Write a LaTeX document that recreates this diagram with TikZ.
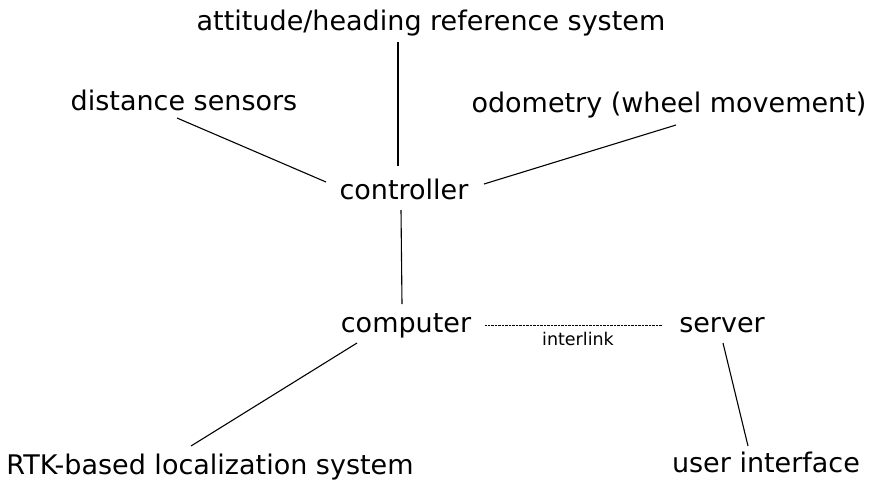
\documentclass[tikz,border=0pt]{standalone}
\usepackage{fontspec}
\setmainfont{DejaVu Sans}
\usetikzlibrary{calc}
\tikzset{
  lbl/.style={anchor=base, inner sep=0pt, font=\fontsize{27}{32}\selectfont},
  small/.style={anchor=base, inner sep=0pt, font=\fontsize{17.5}{21}\selectfont},
  link/.style={line width=1.1pt, black},
  dotlink/.style={line width=0.9pt, black, dash pattern=on 0.5pt off 0.9pt}
}
\begin{document}
\begin{tikzpicture}[x=1pt, y=-1pt]
\useasboundingbox (0,0) rectangle (870,483);
\node[lbl] (att)  at (431,30)  {attitude/heading reference system};
\node[lbl] (dist) at (184,110) {distance sensors};
\node[lbl] (odo)  at (669,112) {odometry (wheel movement)};
\node[lbl] (ctrl) at (404,199) {controller};
\node[lbl] (comp) at (406,332) {computer};
\node[lbl] (srv)  at (722,332) {server};
\node[lbl] (rtk)  at (210,474) {RTK-based localization system};
\node[lbl] (ui)   at (766,472) {user interface};
\node[small] (il) at (578,345) {interlink};

\draw[link] ($(att.base)+(-33,12)$) -- ($(ctrl.base)+(-6,-33)$);
\draw[link] ($(dist.base)+(-7,8)$) -- ($(ctrl.base)+(-78,-17)$);
\draw[link] ($(odo.base)+(7,13)$) -- ($(ctrl.base)+(80,-15)$);
\draw[link] ($(ctrl.base)+(-3,11)$) -- ($(comp.base)+(-4,-28)$);
\draw[link] ($(comp.base)+(-49,11)$) -- ($(rtk.base)+(-19,-28)$);
\draw[link] ($(srv.base)+(1,11)$) -- ($(ui.base)+(-18,-26)$);
\draw[dotlink] ($(comp.base)+(79,-7)$) -- ($(srv.base)+(-60,-7)$);
\end{tikzpicture}
\end{document}
